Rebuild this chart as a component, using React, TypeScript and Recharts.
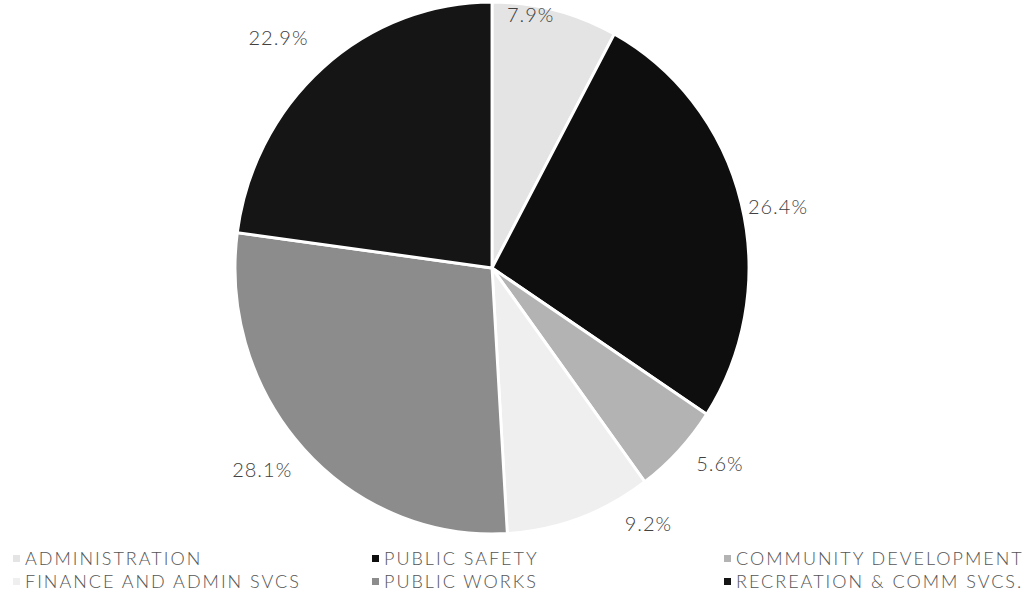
import { PieChart, Pie, Cell, Legend } from "recharts";

const categories = [
    "ADMINISTRATION",
    "PUBLIC SAFETY",
    "COMMUNITY DEVELOPMENT",
    "FINANCE AND ADMIN SVCS",
    "PUBLIC WORKS",
    "RECREATION & COMM SVCS.",
];
const shares = [7.9, 26.4, 5.6, 9.2, 28.1, 22.9];
const sliceColors = ["#e4e4e4", "#0e0e0e", "#b3b3b3", "#efefef", "#8c8c8c", "#151515"];
// Excel "best fit" moved a few labels off their mid-angle spot
const labelNudge: [number, number][] = [
    [-35, 37],
    [-5, 11],
    [10, -11],
    [54, -27],
    [-10, -3],
    [-16, -5],
];

const data = categories.map((name, i) => ({ name, value: shares[i] }));

const FONT = "Lato, 'Open Sans', sans-serif";
const RAD = Math.PI / 180;
const CX = 492;
const CY = 268;

// the scanned pie is a little narrower than tall
const pieCss = `path.recharts-sector { transform-box: view-box; transform-origin: ${CX}px ${CY}px; transform: scaleX(0.966); }`;

function renderLabel(props: any) {
    const { cx, cy, midAngle, outerRadius, value, index } = props;
    const r = outerRadius + 34;
    const [dx, dy] = labelNudge[index] || [0, 0];
    const x = cx + r * Math.cos(-midAngle * RAD) + dx;
    const y = cy + r * Math.sin(-midAngle * RAD) + dy;
    return (
        <text
            x={x}
            y={y}
            fill="#404040"
            fontSize={20}
            fontFamily={FONT}
            fontWeight={300}
            letterSpacing={1}
            textAnchor="middle"
            dominantBaseline="central"
        >
            {`${value.toFixed(1)}%`}
        </text>
    );
}

function LegendBox() {
    const cols = [13, 372, 724];
    return (
        <div style={{ position: "relative", width: 1034, height: 50 }}>
            {categories.map((name, k) => {
                const col = k % 3;
                const row = Math.floor(k / 3);
                return (
                    <div
                        key={name}
                        style={{
                            position: "absolute",
                            left: cols[col],
                            top: row * 23,
                            display: "flex",
                            alignItems: "center",
                            fontFamily: FONT,
                            fontWeight: 300,
                            fontSize: 18,
                            letterSpacing: 2,
                            color: "#555",
                            whiteSpace: "nowrap",
                        }}
                    >
                        <span
                            style={{
                                display: "inline-block",
                                width: 7,
                                height: 7,
                                background: sliceColors[k],
                                marginRight: 5,
                            }}
                        />
                        {name}
                    </div>
                );
            })}
        </div>
    );
}

export default function App() {
    return (
        <div style={{ position: "absolute", left: 0, top: 0, background: "#fff" }}>
            <style>{pieCss}</style>
            <PieChart width={1034} height={599} margin={{ top: 0, right: 0, bottom: 0, left: 0 }}>
                <Pie
                    data={data}
                    dataKey="value"
                    nameKey="name"
                    cx={CX}
                    cy={CY}
                    outerRadius={266}
                    startAngle={90}
                    endAngle={-270}
                    stroke="#ffffff"
                    strokeWidth={3}
                    label={renderLabel}
                    labelLine={false}
                    isAnimationActive={false}
                >
                    {data.map((_, i) => (
                        <Cell key={i} fill={sliceColors[i]} />
                    ))}
                </Pie>
                <Legend
                    verticalAlign="bottom"
                    align="left"
                    content={() => <LegendBox />}
                    wrapperStyle={{ left: 0, bottom: 0, top: 547, width: 1034 }}
                />
            </PieChart>
        </div>
    );
}
